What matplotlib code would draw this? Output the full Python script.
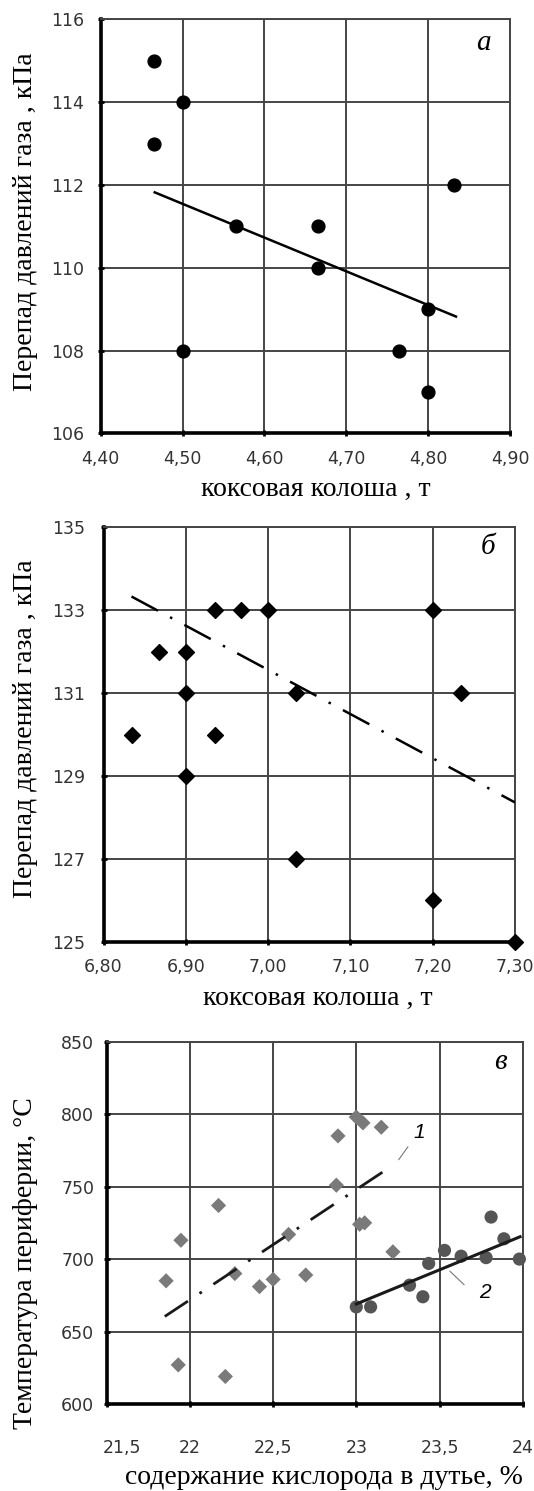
import matplotlib
matplotlib.use("Agg")
import matplotlib.pyplot as plt
import matplotlib.transforms as mtransforms

# ---------------- data ----------------
# panel а
a_x = [4.465, 4.50, 4.465, 4.831, 4.565, 4.665, 4.665, 4.80, 4.50, 4.765, 4.80]
a_y = [115, 114, 113, 112, 111, 111, 110, 109, 108, 108, 107]
a_trend_x = [4.466, 4.834]
a_trend_y = [111.82, 108.82]
a_xticks = [4.40, 4.50, 4.60, 4.70, 4.80, 4.90]
a_xticklabels = ["4,40", "4,50", "4,60", "4,70", "4,80", "4,90"]
a_yticks = [106, 108, 110, 112, 114, 116]

# panel б
b_x = [6.835, 6.867, 6.90, 6.90, 6.90, 6.935, 6.935, 6.967, 7.00, 7.034, 7.034,
       7.20, 7.20, 7.234, 7.30]
b_y = [130, 132, 132, 131, 129, 133, 130, 133, 133, 131, 127, 133, 126, 131, 125]
b_trend_x = [6.834, 7.30]
b_trend_y = [133.33, 128.36]
b_xticks = [6.80, 6.90, 7.00, 7.10, 7.20, 7.30]
b_xticklabels = ["6,80", "6,90", "7,00", "7,10", "7,20", "7,30"]
b_yticks = [125, 127, 129, 131, 133, 135]

# panel в, series 1 (diamonds)
c1_x = [21.857, 21.946, 21.93, 22.172, 22.213, 22.27, 22.418, 22.50, 22.593,
        22.696, 22.89, 22.88, 23.00, 23.04, 23.15, 23.02, 23.05, 23.22]
c1_y = [685, 713, 627, 737, 619, 690, 681, 686, 717, 689, 785, 751, 798, 794,
        791, 724, 725, 705]
# panel в, series 2 (circles)
c2_x = [23.00, 23.086, 23.32, 23.40, 23.435, 23.53, 23.63, 23.78, 23.81,
        23.887, 23.98]
c2_y = [667, 667, 682, 674, 697, 706, 702, 701, 729, 714, 700]
c1_trend_x = [21.849, 23.213]
c1_trend_y = [660.4, 764.2]
c2_trend_x = [23.0, 23.984]
c2_trend_y = [669.0, 715.4]
c_xticks = [21.5, 22.0, 22.5, 23.0, 23.5, 24.0]
c_xticklabels = ["21,5", "22", "22,5", "23", "23,5", "24"]
c_yticks = [600, 650, 700, 750, 800, 850]

xlabel_ab = "коксовая колоша , т"
ylabel_ab = "Перепад давлений газа , кПа"
xlabel_c = "содержание кислорода в дутье, %"
ylabel_c = "Температура периферии, °С"

# ---------------- figure ----------------
W, H = 534, 1491
fig = plt.figure(figsize=(W / 100, H / 100), dpi=100)
fig.patch.set_facecolor("white")

SERIF = ["Liberation Serif", "DejaVu Serif"]
TICKC = "#333333"
GRIDC = "#454545"
LABEL_FS = 20


def box(x0, y0, x1, y1):
    return [x0 / W, 1 - y1 / H, (x1 - x0) / W, (y1 - y0) / H]


def style(ax, xpad, ypad):
    ax.set_facecolor("white")
    ax.grid(True, color=GRIDC, lw=1.4)
    ax.set_axisbelow(True)
    for s in ("top", "right"):
        ax.spines[s].set_color(GRIDC)
        ax.spines[s].set_linewidth(1.4)
    for s in ("left", "bottom"):
        ax.spines[s].set_color("black")
        ax.spines[s].set_linewidth(2.6)
    ax.tick_params(axis="both", direction="inout", length=4, width=2,
                   color="black", labelsize=12.5, labelcolor=TICKC)
    ax.tick_params(axis="x", pad=xpad)
    ax.tick_params(axis="y", pad=ypad)


def ftext(x, y, s, **kw):
    fig.text(x / W, 1 - y / H, s, **kw)


# panel а
ax1 = fig.add_axes(box(100.7, 19.3, 510, 433.3))
style(ax1, 10, 10)
ax1.set_xlim(4.40, 4.90)
ax1.set_ylim(106, 116)
ax1.set_xticks(a_xticks)
ax1.set_xticklabels(a_xticklabels)
ax1.set_yticks(a_yticks)
ax1.scatter(a_x, a_y, s=85, color="black", zorder=3, clip_on=False)
ax1.plot(a_trend_x, a_trend_y, color="black", lw=1.8, zorder=4)
ftext(483, 43, "а", family=SERIF, style="italic", fontsize=21,
      ha="center", va="center")
ftext(316, 489, xlabel_ab, family=SERIF, fontsize=LABEL_FS, ha="center",
      va="center")
ftext(25.5, 222, ylabel_ab, family=SERIF, fontsize=LABEL_FS, ha="center",
      va="center", rotation=90)

# panel б
ax2 = fig.add_axes(box(103.5, 527.3, 515, 941.7))
style(ax2, 10, 11)
ax2.set_xlim(6.80, 7.30)
ax2.set_ylim(125, 135)
ax2.set_xticks(b_xticks)
ax2.set_xticklabels(b_xticklabels)
ax2.set_yticks(b_yticks)
ax2.scatter(b_x, b_y, s=65, marker="D", color="black", zorder=3, clip_on=False)
ax2.plot(b_trend_x, b_trend_y, color="black", lw=1.8, zorder=4,
         linestyle=(0, (12, 5.5, 1, 5.5)))
ftext(488, 547, "б", family=SERIF, style="italic", fontsize=21,
      ha="center", va="center")
ftext(318, 998, xlabel_ab, family=SERIF, fontsize=LABEL_FS, ha="center",
      va="center")
ftext(25.5, 729, ylabel_ab, family=SERIF, fontsize=LABEL_FS, ha="center",
      va="center", rotation=90)

# panel в
ax3 = fig.add_axes(box(106.7, 1041.7, 522.7, 1404))
style(ax3, 23, 7)
ax3.set_xlim(21.5, 24.0)
ax3.set_ylim(600, 850)
ax3.set_xticks(c_xticks)
ax3.set_xticklabels(c_xticklabels)
ax3.set_yticks(c_yticks)
first = ax3.get_xticklabels()[0]
first.set_transform(first.get_transform() +
                    mtransforms.ScaledTranslation(11 / 72, 0, fig.dpi_scale_trans))
ax3.scatter(c1_x, c1_y, s=60, marker="D", color="#7a7a7a", zorder=3,
            edgecolors="none", clip_on=False)
ax3.scatter(c2_x, c2_y, s=90, marker="o", color="#555555", zorder=3,
            edgecolors="none", clip_on=False)
ax3.plot(c1_trend_x, c1_trend_y, color="#1a1a1a", lw=2.0, zorder=4,
         linestyle=(0, (10, 5, 1, 5)))
ax3.plot(c2_trend_x, c2_trend_y, color="#1a1a1a", lw=2.2, zorder=4)
# leaders
ax3.annotate("", xy=(23.245, 767), xytext=(23.32, 779),
             arrowprops=dict(arrowstyle="-", color="#777777", lw=0.8))
ax3.annotate("", xy=(23.55, 693), xytext=(23.66, 681),
             arrowprops=dict(arrowstyle="-", color="#777777", lw=0.8))
ftext(419, 1133, "1", family=["Liberation Sans", "DejaVu Sans"],
      style="italic", fontsize=15, ha="center", va="center")
ftext(485, 1292, "2", family=["Liberation Sans", "DejaVu Sans"],
      style="italic", fontsize=15, ha="center", va="center")
ftext(500, 1062, "в", family=SERIF, style="italic", fontsize=21,
      ha="center", va="center")
ftext(324, 1477, xlabel_c, family=SERIF, fontsize=LABEL_FS, ha="center",
      va="center")
ftext(25.5, 1263, ylabel_c, family=SERIF, fontsize=LABEL_FS, ha="center",
      va="center", rotation=90)

fig.savefig("out.png", dpi=100, facecolor="white")
